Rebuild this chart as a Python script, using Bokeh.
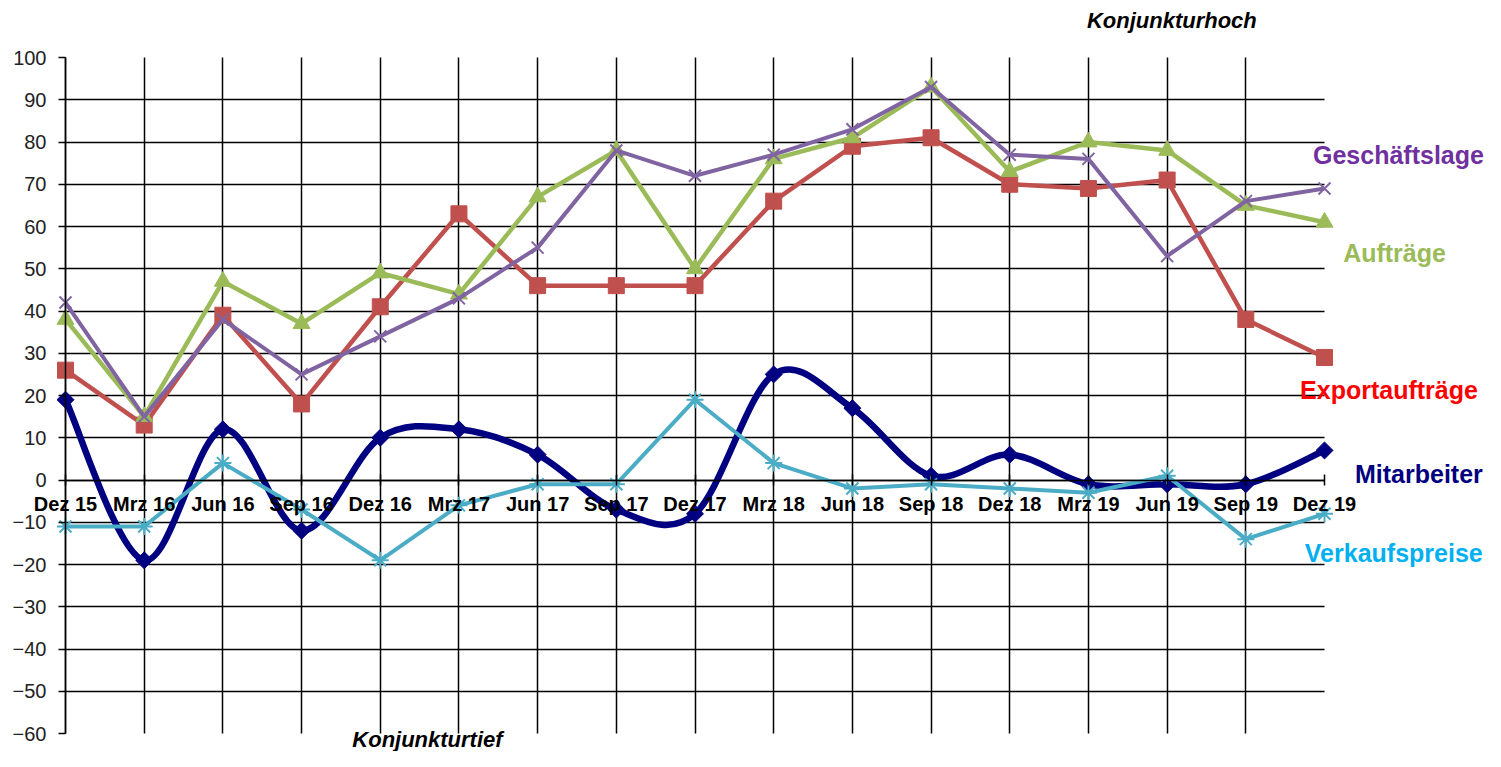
from bokeh.plotting import figure
from bokeh.models import FixedTicker, Label, Range1d
from bokeh.embed import file_html
from bokeh.resources import INLINE

# ---------------- data ----------------
categories = ["Dez 15", "Mrz 16", "Jun 16", "Sep 16", "Dez 16", "Mrz 17", "Jun 17",
              "Sep 17", "Dez 17", "Mrz 18", "Jun 18", "Sep 18", "Dez 18", "Mrz 19",
              "Jun 19", "Sep 19", "Dez 19"]
geschaeftslage = [42, 15, 38, 25, 34, 43, 55, 78, 72, 77, 83, 93, 77, 76, 53, 66, 69]
auftraege = [38, 15, 47, 37, 49, 44, 67, 78, 50, 76, 81, 93, 73, 80, 78, 65, 61]
exportauftraege = [26, 13, 39, 18, 41, 63, 46, 46, 46, 66, 79, 81, 70, 69, 71, 38, 29]
mitarbeiter = [19, -19, 12, -12, 10, 12, 6, -7, -8, 25, 17, 1, 6, -1, -1, -1, 7]
verkaufspreise = [-11, -11, 4, -7, -19, -6, -1, -1, 19, 4, -2, -1, -2, -3, 1, -14, -8]
y_ticks = list(range(-60, 101, 10))

# ---------------- layout ----------------
W, H = 1485, 751
X_FIRST_PX, X_LAST_PX = 65, 1324     # canvas px of first / last category
Y_TOP_PX, Y_BOT_PX = 57, 733         # canvas px of 100 / -60
FONT = "Liberation Sans"

xs_idx = list(range(len(categories)))
n = len(categories)
ppx = (X_LAST_PX - X_FIRST_PX) / (n - 1)
x_start = -X_FIRST_PX / ppx
x_end = x_start + W / ppx
ppy = (Y_BOT_PX - Y_TOP_PX) / (y_ticks[-1] - y_ticks[0])
y_end = y_ticks[-1] + Y_TOP_PX / ppy
y_start = y_end - H / ppy

p = figure(width=W, height=H, output_backend="svg", toolbar_location=None,
           x_range=Range1d(x_start, x_end), y_range=Range1d(y_start, y_end),
           min_border=0)
p.outline_line_color = None
p.background_fill_color = "white"
p.border_fill_color = "white"

# axes placed at the zero crossings
xa = p.xaxis[0]
xa.fixed_location = 0
xa.bounds = (0, n - 1)
xa.ticker = FixedTicker(ticks=xs_idx)
xa.major_label_overrides = {i: c for i, c in enumerate(categories)}
xa.axis_line_color = "black"
xa.axis_line_width = 1.5
xa.major_tick_line_color = "black"
xa.major_tick_line_width = 1.5
xa.major_tick_in = 6
xa.major_tick_out = 5
xa.minor_tick_line_color = None
xa.major_label_standoff = 8
xa.major_label_text_font = FONT
xa.major_label_text_font_style = "bold"
xa.major_label_text_font_size = "20px"
xa.major_label_text_color = "black"

ya = p.yaxis[0]
ya.fixed_location = 0
ya.bounds = (y_ticks[0], y_ticks[-1])
ya.ticker = FixedTicker(ticks=y_ticks)
ya.axis_line_color = "black"
ya.axis_line_width = 1.5
ya.major_tick_line_color = "black"
ya.major_tick_line_width = 1.5
ya.major_tick_in = 0
ya.major_tick_out = 7
ya.minor_tick_line_color = None
ya.major_label_standoff = 12
ya.major_label_text_font = FONT
ya.major_label_text_font_size = "20px"
ya.major_label_text_color = "#222222"

# grid
p.xgrid.ticker = FixedTicker(ticks=xs_idx[:-1])
p.xgrid.cross_bounds = (y_ticks[0], y_ticks[-1])
p.xgrid.grid_line_color = "black"
p.xgrid.grid_line_width = 1.5
p.ygrid.ticker = FixedTicker(ticks=y_ticks[1:-1])
p.ygrid.cross_bounds = (0, n - 1)
p.ygrid.grid_line_color = "black"
p.ygrid.grid_line_width = 1.5

# ---------------- series ----------------
RED, GREEN, PURPLE, NAVY, CYAN = "#C0504D", "#9BBB59", "#8064A2", "#000080", "#4BACC6"

p.line(xs_idx, exportauftraege, line_color=RED, line_width=4.5)
p.scatter(xs_idx, exportauftraege, marker="square", size=16, fill_color=RED, line_color=RED)

p.line(xs_idx, auftraege, line_color=GREEN, line_width=4.5)
p.scatter(xs_idx, auftraege, marker="triangle", size=17, fill_color=GREEN, line_color=GREEN)

p.line(xs_idx, geschaeftslage, line_color=PURPLE, line_width=4)
p.scatter(xs_idx, geschaeftslage, marker="x", size=17, line_color=PURPLE, line_width=2)

# smoothed Mitarbeiter line (Catmull-Rom style bezier segments from the data)
bx0, by0, bx1, by1, bcx0, bcy0, bcx1, bcy1 = [], [], [], [], [], [], [], []
for i in range(n - 1):
    i0, i3 = max(i - 1, 0), min(i + 2, n - 1)
    xa0, ya0 = xs_idx[i0], mitarbeiter[i0]
    xa1, ya1 = xs_idx[i], mitarbeiter[i]
    xa2, ya2 = xs_idx[i + 1], mitarbeiter[i + 1]
    xa3, ya3 = xs_idx[i3], mitarbeiter[i3]
    bx0.append(xa1); by0.append(ya1); bx1.append(xa2); by1.append(ya2)
    bcx0.append(xa1 + (xa2 - xa0) / 6); bcy0.append(ya1 + (ya2 - ya0) / 6)
    bcx1.append(xa2 - (xa3 - xa1) / 6); bcy1.append(ya2 - (ya3 - ya1) / 6)
p.bezier(x0=bx0, y0=by0, x1=bx1, y1=by1, cx0=bcx0, cy0=bcy0, cx1=bcx1, cy1=bcy1,
         line_color=NAVY, line_width=6.5, line_cap="round")
p.scatter(xs_idx, mitarbeiter, marker="square", angle=0.785398, size=12,
          fill_color=NAVY, line_color=NAVY)

p.line(xs_idx, verkaufspreise, line_color=CYAN, line_width=4)
p.scatter(xs_idx, verkaufspreise, marker="asterisk", size=17, line_color=CYAN, line_width=2)

# ---------------- labels ----------------
def add_label(x, y, text, color, size="25px", style="bold"):
    p.add_layout(Label(x=x, y=y, text=text, text_color=color, text_font=FONT,
                       text_font_size=size, text_font_style=style,
                       text_align="center", text_baseline="middle"))

add_label(16.94, 77.0, "Geschäftslage", "#7030A0")
add_label(16.89, 53.8, "Aufträge", "#9BBB59")
add_label(16.82, 21.3, "Exportaufträge", "#FF0000")
add_label(17.20, 1.5, "Mitarbeiter", "#000080")
add_label(16.88, -17.2, "Verkaufspreise", "#00B0F0")
add_label(14.06, 108.8, "Konjunkturhoch", "black", size="22px", style="bold italic")
add_label(4.60, -61.4, "Konjunkturtief", "black", size="22px", style="bold italic")

open("out.html", "w").write(file_html(p, INLINE))
